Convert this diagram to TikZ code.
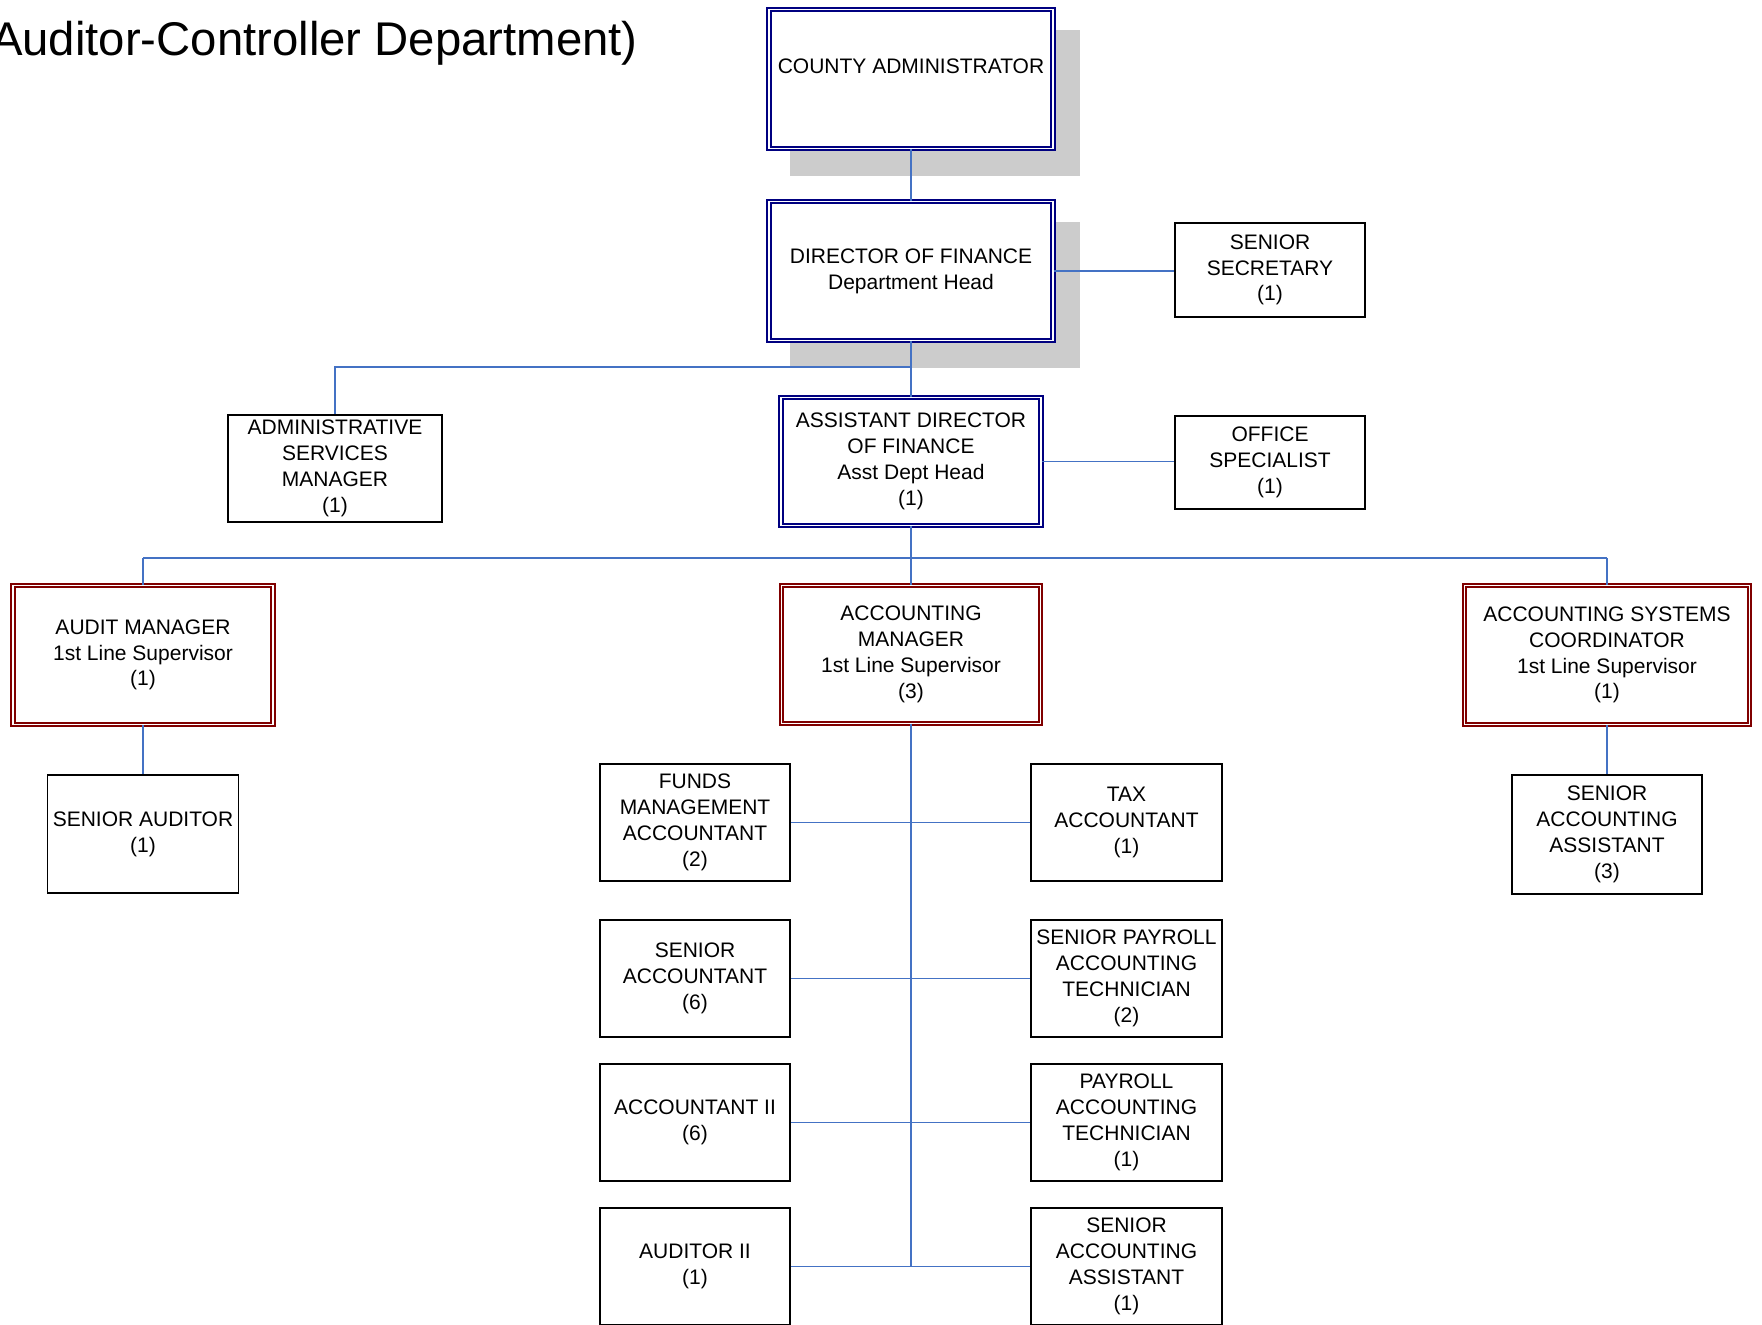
\documentclass[tikz,border=0pt]{standalone}
\usepackage{fontspec}
\setmainfont{Liberation Sans}
\definecolor{navyline}{RGB}{0,0,128}
\definecolor{redline}{RGB}{128,0,0}
\definecolor{linkblue}{RGB}{68,114,196}
\definecolor{shadowgray}{RGB}{204,204,204}
\begin{document}
\begin{tikzpicture}[x=1pt,y=-1pt,
  every node/.style={font=\fontsize{21}{25.8}\selectfont, align=center, inner sep=0pt},
  lowered/.style={execute at begin node={\rule{0pt}{26pt}}},
  plainbox/.style={lowered, draw=black, line width=1.9pt, fill=white},
  bluebox/.style={draw=navyline, fill=white, double=white, line width=1.6pt, double distance=1.9pt},
  redbox/.style={lowered, draw=redline, fill=white, double=white, line width=1.6pt, double distance=1.9pt},
  link/.style={draw=linkblue, line width=1.9pt},
  shade/.style={fill=shadowgray}]
\useasboundingbox (0,0) rectangle (1762,1325);

% heading
\node[anchor=base east, font=\fontsize{47.3}{56}\selectfont] (title) at (638,55) {Auditor-Controller Department)};

% drop shadows behind the two top boxes
\fill[shade] (790,30) rectangle (1080,176);
\fill[shade] (790,222) rectangle (1080,368);

% top level
\node[bluebox, minimum width=284pt, minimum height=139pt, text height=15pt, text depth=27pt] (ca) at (911,79) {COUNTY ADMINISTRATOR};
\node[bluebox, lowered, minimum width=284pt, minimum height=139pt] (dir) at (911,271) {DIRECTOR OF FINANCE\\Department Head};
\node[plainbox, minimum width=190pt, minimum height=94pt] (sec) at (1270,270) {SENIOR\\SECRETARY\\(1)};

% second level
\node[plainbox, minimum width=214pt, minimum height=107pt] (asm) at (335,468.5) {ADMINISTRATIVE\\SERVICES\\MANAGER\\(1)};
\node[bluebox, lowered, minimum width=260pt, minimum height=128pt] (ad) at (911,461.5) {ASSISTANT DIRECTOR\\OF FINANCE\\Asst Dept Head\\(1)};
\node[plainbox, minimum width=190pt, minimum height=93pt] (off) at (1270,462.5) {OFFICE\\SPECIALIST\\(1)};

% managers
\node[redbox, minimum width=260pt, minimum height=139pt] (aud) at (143,655) {AUDIT MANAGER\\1st Line Supervisor\\(1)};
\node[redbox, minimum width=259pt, minimum height=138pt] (acm) at (911,654.5) {ACCOUNTING\\MANAGER\\1st Line Supervisor\\(3)};
\node[redbox, minimum width=285pt, minimum height=139pt] (asc) at (1607,655) {ACCOUNTING SYSTEMS\\COORDINATOR\\1st Line Supervisor\\(1)};

% staff under the audit manager and the systems coordinator
\node[plainbox, minimum width=191pt, minimum height=118pt] (sau) at (143,834) {SENIOR AUDITOR\\(1)};
\node[plainbox, minimum width=190pt, minimum height=119pt] (saa) at (1607,834.5) {SENIOR\\ACCOUNTING\\ASSISTANT\\(3)};

% staff under the accounting manager
\node[plainbox, minimum width=190pt, minimum height=117pt] (fma) at (695,822.5) {FUNDS\\MANAGEMENT\\ACCOUNTANT\\(2)};
\node[plainbox, minimum width=191pt, minimum height=117pt] (tax) at (1126.5,822.5) {TAX\\ACCOUNTANT\\(1)};
\node[plainbox, minimum width=190pt, minimum height=117pt] (sac) at (695,978.5) {SENIOR\\ACCOUNTANT\\(6)};
\node[plainbox, minimum width=191pt, minimum height=117pt] (spt) at (1126.5,978.5) {SENIOR PAYROLL\\ACCOUNTING\\TECHNICIAN\\(2)};
\node[plainbox, minimum width=190pt, minimum height=117pt] (acc) at (695,1122.5) {ACCOUNTANT II\\(6)};
\node[plainbox, minimum width=191pt, minimum height=117pt] (pat) at (1126.5,1122.5) {PAYROLL\\ACCOUNTING\\TECHNICIAN\\(1)};
\node[plainbox, minimum width=190pt, minimum height=117pt] (au2) at (695,1266.5) {AUDITOR II\\(1)};
\node[plainbox, minimum width=191pt, minimum height=117pt] (sa1) at (1126.5,1266.5) {SENIOR\\ACCOUNTING\\ASSISTANT\\(1)};

% connectors
\coordinate (split) at (911,367);
\coordinate (bus) at (911,558);
\path[link] (ca.south) -- (dir.north);
\path[link] (dir.south) -- (split) -- (ad.north);
\path[link] (split) -| (asm.north);
\path[link] (dir.east) -- (dir.east -| sec.west);
\path[link] (ad.east) -- (ad.east -| off.west);
\path[link] (ad.south) -- (acm.north);
\path[link] (aud.north |- bus) -- (asc.north |- bus);
\path[link] (aud.north |- bus) -- (aud.north);
\path[link] (asc.north |- bus) -- (asc.north);
\path[link] (aud.south) -- (sau.north);
\path[link] (asc.south) -- (saa.north);
\path[link] (acm.south) -- (acm.south |- au2.east);
\path[link] (fma.east) -- (tax.west);
\path[link] (sac.east) -- (spt.west);
\path[link] (acc.east) -- (pat.west);
\path[link] (au2.east) -- (sa1.west);
\end{tikzpicture}
\end{document}
